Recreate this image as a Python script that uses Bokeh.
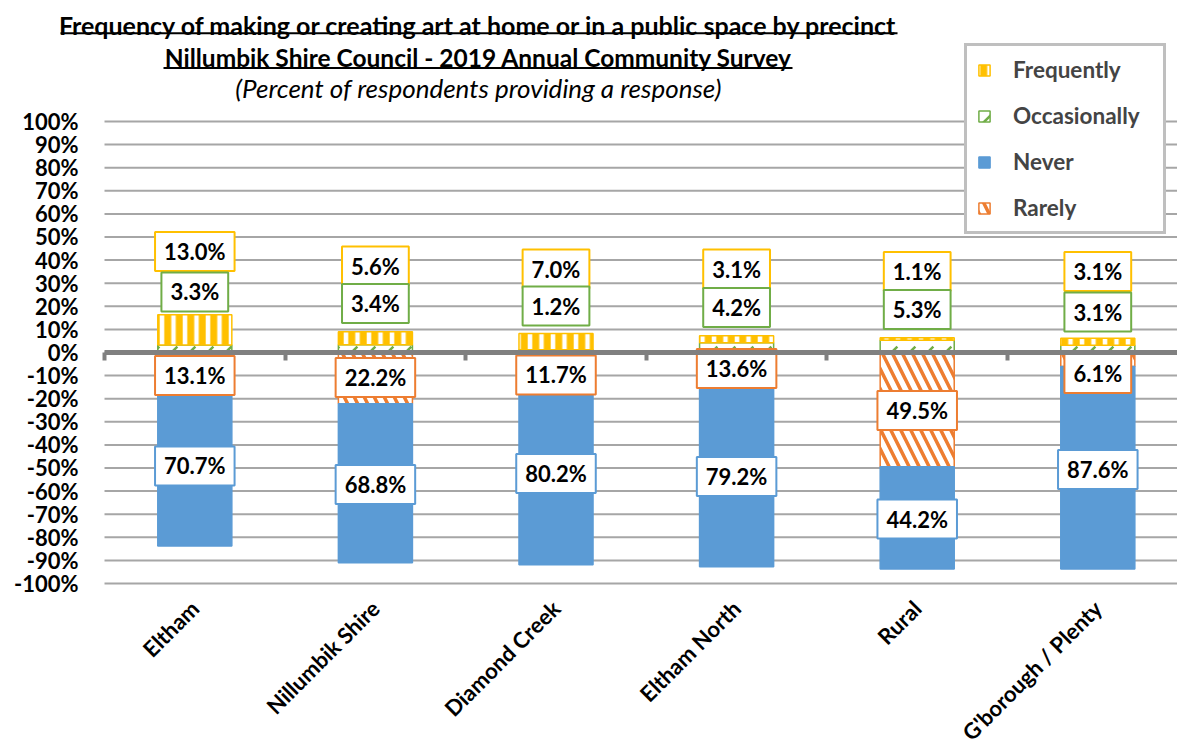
import math
from bokeh.plotting import figure
from bokeh.models import (Range1d, LinearAxis, FixedTicker, PrintfTickFormatter,
                          ColumnDataSource, Legend, LegendItem)
from bokeh.core.properties import value
from bokeh.embed import file_html
from bokeh.resources import INLINE

# ---------------- data ----------------
categories = ["Eltham", "Nillumbik Shire", "Diamond Creek", "Eltham North", "Rural", "G'borough / Plenty"]
frequently = [13.0, 5.6, 7.0, 3.1, 1.1, 3.1]
occasionally = [3.3, 3.4, 1.2, 4.2, 5.3, 3.1]
rarely = [13.1, 22.2, 11.7, 13.6, 49.5, 6.1]
never = [70.7, 68.8, 80.2, 79.2, 44.2, 87.6]
y_ticks = list(range(-100, 101, 10))

title_lines = ["Frequency of making or creating art at home or in a public space by precinct",
               "Nillumbik Shire Council - 2019 Annual Community Survey",
               "(Percent of respondents providing a response)"]

# label placement (layout, in value units)
freq_label_y = [43.7, 37.4, 36.1, 36.1, 35.1, 35.1]
occ_label_y = [26.2, 21.2, 20.1, 19.5, 18.6, 17.5]
rarely_label_y = [-10.0, -10.8, -9.7, -6.9, -25.1, -9.1]
never_label_y = [-49.1, -57.1, -52.4, -53.7, -72.1, -50.6]

# ---------------- style ----------------
YELLOW = "#FFC000"
GREEN = "#70AD47"
BLUE = "#5B9BD5"
ORANGE = "#ED7D31"
GRID = "#A6A6A6"
AXIS = "#808080"
FONT = "Lato"

W, H = 1177, 745
x_start, x_end = -0.5759, 5.9413
y_start, y_end = -170.13, 152.38

p = figure(width=W, height=H, output_backend="svg", toolbar_location=None,
           x_range=Range1d(x_start, x_end), y_range=Range1d(y_start, y_end),
           x_axis_location=None, y_axis_location=None,
           min_border_left=0, min_border_right=0, min_border_top=0, min_border_bottom=0)
p.outline_line_color = None
for g in p.grid:
    g.visible = False

n = len(categories)
xs = [i + 0.5 for i in range(n)]

# gridlines
p.segment(x0=0, x1=x_end, y0=y_ticks, y1=y_ticks, line_color=GRID, line_width=2)

# bars
freq_bottom = occasionally
freq_top = [o + f for o, f in zip(occasionally, frequently)]
rar_bottom = [-r for r in rarely]
nev_top = rar_bottom
nev_bottom = [-(r + v) for r, v in zip(rarely, never)]

BW = 0.41
r_occ = p.vbar(x=xs, width=BW, bottom=0, top=occasionally, fill_color="white",
               hatch_pattern="right_diagonal_dash", hatch_color=GREEN, hatch_scale=18,
               hatch_weight=2.5, line_color=GREEN, line_width=1.5)
r_freq = p.vbar(x=xs, width=BW, bottom=freq_bottom, top=freq_top, fill_color="white",
                hatch_pattern="vertical_line", hatch_color=YELLOW, hatch_scale=11.5,
                hatch_weight=7, line_color=YELLOW, line_width=1.5)
r_rar = p.vbar(x=xs, width=BW, bottom=rar_bottom, top=0, fill_color="white",
               hatch_pattern="left_diagonal_line", hatch_color=ORANGE, hatch_scale=20,
               hatch_weight=3.5, line_color=ORANGE, line_width=1.5)
r_nev = p.vbar(x=xs, width=BW, bottom=nev_bottom, top=nev_top, fill_color=BLUE,
               line_color=BLUE, line_width=1.5)

# data labels
def labels(vals, ys, color):
    src = ColumnDataSource(dict(x=xs, y=ys, t=[f"{v:.1f}%" for v in vals]))
    p.text(x="x", y="y", text="t", source=src, text_align="center", text_baseline="middle",
           text_font=value(FONT), text_font_style="bold", text_font_size="22px",
           text_color="black", background_fill_color="white",
           border_line_color=color, border_line_width=2,
           padding=dict(left=9, right=9, top=6, bottom=6))

labels(frequently, freq_label_y, YELLOW)
labels(occasionally, occ_label_y, GREEN)
labels(rarely, rarely_label_y, ORANGE)
labels(never, never_label_y, BLUE)

# y axis
yaxis = LinearAxis(ticker=FixedTicker(ticks=y_ticks), formatter=PrintfTickFormatter(format="%d%%"),
                   fixed_location=0, axis_line_color=None, major_tick_line_color=None,
                   minor_tick_line_color=None, major_tick_out=0, major_tick_in=0,
                   major_label_standoff=26, major_label_text_font=FONT,
                   major_label_text_font_style="bold", major_label_text_font_size="22px",
                   major_label_text_color="black")
p.add_layout(yaxis, "left")

# zero axis with boundary ticks
zaxis = LinearAxis(ticker=FixedTicker(ticks=list(range(n + 1))), fixed_location=0,
                   bounds=(0, x_end), axis_line_color=AXIS, axis_line_width=5,
                   major_tick_line_color=AXIS, major_tick_line_width=4,
                   major_tick_out=8, major_tick_in=0, minor_tick_line_color=None,
                   major_label_text_font_size="0px", major_label_text_color=None)
p.add_layout(zaxis, "below")

# category axis
caxis = LinearAxis(ticker=FixedTicker(ticks=xs),
                   major_label_overrides={x: c for x, c in zip(xs, categories)},
                   fixed_location=-103, axis_line_color=None, major_tick_line_color=None,
                   minor_tick_line_color=None, major_tick_out=0, major_tick_in=0,
                   major_label_orientation=math.pi / 4, major_label_standoff=14,
                   major_label_text_font=FONT, major_label_text_font_style="bold",
                   major_label_text_font_size="22px", major_label_text_color="black")
p.add_layout(caxis, "below")

# titles
tx = 2.071
p.text(x=[tx], y=[141.6], text=[title_lines[0]], text_align="center", text_baseline="middle",
       text_font=value(FONT), text_font_style="bold", text_font_size="25px", text_color="black")
p.text(x=[tx], y=[127.7], text=[title_lines[1]], text_align="center", text_baseline="middle",
       text_font=value(FONT), text_font_style="bold", text_font_size="24.5px", text_color="black")
p.text(x=[tx], y=[114.3], text=[title_lines[2]], text_align="center", text_baseline="middle",
       text_font=value(FONT), text_font_style="italic", text_font_size="26px", text_color="black")
p.segment(x0=[-0.2436, 0.3267], x1=[4.391, 3.8095], y0=[138.2, 123.2], y1=[138.2, 123.2],
          line_color="black", line_width=2)

# legend
legend = Legend(items=[LegendItem(label="Frequently", renderers=[r_freq]),
                       LegendItem(label="Occasionally", renderers=[r_occ]),
                       LegendItem(label="Never", renderers=[r_nev]),
                       LegendItem(label="Rarely", renderers=[r_rar])],
                location=(964, H - 234), padding=10, spacing=19,
                glyph_width=14, glyph_height=14, label_height=20, label_width=140,
                label_standoff=22,
                label_text_font=FONT, label_text_font_style="bold", label_text_font_size="22.5px",
                border_line_color=AXIS, border_line_width=3, background_fill_color="white",
                background_fill_alpha=1)
p.add_layout(legend)

open("out.html", "w").write(file_html(p, INLINE))
